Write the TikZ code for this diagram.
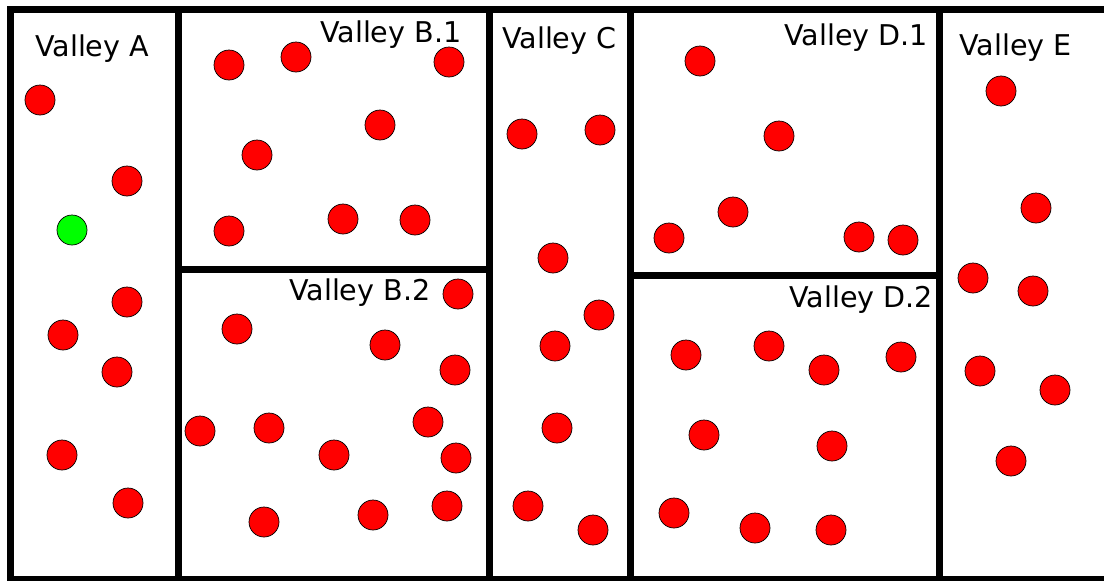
\documentclass[tikz,border=0pt]{standalone}
\usepackage{fontspec}
\setmainfont{DejaVu Sans}
\begin{document}
\begin{tikzpicture}[x=1pt,y=-1pt,
  wall/.style={line width=7pt,line join=miter,line cap=butt},
  stone/.style={circle,draw=black,line width=0.7pt,fill=red,minimum size=30pt,inner sep=0pt},
  gstone/.style={stone,fill=green},
  lab/.style={anchor=base west,inner sep=0pt,font=\fontsize{28.6}{32}\selectfont}]
\useasboundingbox (0,0) rectangle (1104,581);
% walls
\draw[wall] (1104,9.5) -- (10,9.5) -- (10,579.5) -- (1104,579.5);
\draw[wall] (178,9.5) -- (178,579.5);
\draw[wall] (489,9.5) -- (489,579.5);
\draw[wall] (630,9.5) -- (630,579.5);
\draw[wall] (939,9.5) -- (939,579.5);
\draw[wall] (178,269) -- (489,269);
\draw[wall] (630,275) -- (939,275);
% labels
\node[lab] (lA) at (35,56) {Valley A};
\node[lab] (lB1) at (320,42) {Valley B.1};
\node[lab] (lB2) at (289,300) {Valley B.2};
\node[lab] (lC) at (502,48) {Valley C};
\node[lab] (lD1) at (784,45) {Valley D.1};
\node[lab] (lD2) at (789,307) {Valley D.2};
\node[lab] (lE) at (959,55) {Valley E};
% Valley A
\foreach \x/\y [count=\i] in {40/100,127/181,127/302,63/335,117/372,62/455,128/503}
  \node[stone] (a\i) at (\x,\y) {};
\node[gstone] (ag) at (72,230) {};
% Valley B.1
\foreach \x/\y [count=\i] in {229/65,296/57,449/62,380/125,257/155,229/231,343/219,415/220}
  \node[stone] (ba\i) at (\x,\y) {};
% Valley B.2
\foreach \x/\y [count=\i] in {458/294,237/329,385/345,455/370,200/431,269/428,428/422,334/455,456/458,264/522,373/515,447/506}
  \node[stone] (bb\i) at (\x,\y) {};
% Valley C
\foreach \x/\y [count=\i] in {522/134,600/130,553/258,599/315,555/346,557/428,528/506,593/530}
  \node[stone] (c\i) at (\x,\y) {};
% Valley D.1
\foreach \x/\y [count=\i] in {700/61,779/136,733/212,669/238,859/237,903/240}
  \node[stone] (da\i) at (\x,\y) {};
% Valley D.2
\foreach \x/\y [count=\i] in {686/355,769/346,824/370,901/357,704/435,832/446,674/513,755/528,831/530}
  \node[stone] (db\i) at (\x,\y) {};
% Valley E
\foreach \x/\y [count=\i] in {1001/91,1036/208,973/278,1033/291,980/371,1055/390,1011/461}
  \node[stone] (e\i) at (\x,\y) {};
\end{tikzpicture}
\end{document}
